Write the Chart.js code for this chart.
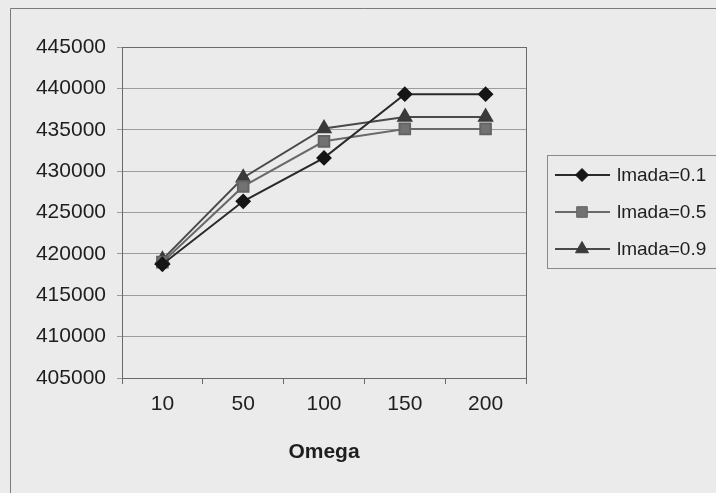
<!DOCTYPE html>
<html>
<head>
<meta charset="utf-8">
<script src="https://cdn.jsdelivr.net/npm/chart.js@4/dist/chart.umd.min.js"></script>
<style>
  html, body { margin:0; padding:0; background:#ebebeb; }
  #wrap { width:716px; height:493px; position:relative; }
</style>
</head>
<body>
<div id="wrap"><canvas id="chart" width="716" height="493"></canvas></div>
<script>
'use strict';

const omega = ['10', '50', '100', '150', '200'];
const lmada01 = [418750, 426350, 431600, 439300, 439300];
const lmada05 = [419000, 428150, 433600, 435100, 435100];
const lmada09 = [419300, 429200, 435150, 436550, 436550];
const yTicks = [405000, 410000, 415000, 420000, 425000, 430000, 435000, 440000, 445000];

const BG = '#ebebeb';
const FONT = 'Arial, "Liberation Sans", sans-serif';

// frame + plot border + legend box
const decor = {
  id: 'decor',
  beforeDraw(chart) {
    const { ctx } = chart;
    ctx.save();
    ctx.fillStyle = BG;
    ctx.fillRect(0, 0, chart.width, chart.height);
    ctx.strokeStyle = '#7a7a7a';
    ctx.lineWidth = 1;
    ctx.beginPath();
    ctx.moveTo(10.5, chart.height);
    ctx.lineTo(10.5, 8.5);
    ctx.lineTo(chart.width, 8.5);
    ctx.stroke();
    ctx.restore();
  },
  afterDatasetsDraw(chart) {
    const { ctx, chartArea: a } = chart;
    ctx.save();
    ctx.strokeStyle = '#6a6a6a';
    ctx.lineWidth = 1;
    ctx.strokeRect(a.left + 0.5, a.top + 0.5, a.right - a.left, a.bottom - a.top);

    // legend
    ctx.strokeStyle = '#8a8a8a';
    ctx.strokeRect(547.5, 155.5, 190, 113);
    const rows = [175, 212, 249];
    chart.data.datasets.forEach((ds, i) => {
      const y = rows[i];
      ctx.strokeStyle = ds.borderColor;
      ctx.lineWidth = 2;
      ctx.beginPath();
      ctx.moveTo(555, y);
      ctx.lineTo(610, y);
      ctx.stroke();
      ctx.fillStyle = ds.pointBackgroundColor;
      ctx.strokeStyle = ds.pointBorderColor;
      ctx.lineWidth = 1;
      Chart.helpers.drawPoint(ctx, { pointStyle: ds.pointStyle, radius: ds.pointRadius, borderWidth: 1 }, 582, y);
      ctx.fillStyle = '#1e1e1e';
      ctx.font = '19px ' + FONT;
      ctx.textBaseline = 'middle';
      ctx.textAlign = 'left';
      ctx.fillText(ds.label, 617, y + 1);
    });
    ctx.restore();
  }
};

new Chart(document.getElementById('chart'), {
  type: 'line',
  data: {
    labels: omega,
    datasets: [
      { label: 'lmada=0.1', data: lmada01, borderColor: '#2a2a2a', borderWidth: 2,
        pointStyle: 'rectRot', pointRadius: 6.5, pointBackgroundColor: '#151515', pointBorderColor: '#151515' },
      { label: 'lmada=0.5', data: lmada05, borderColor: '#6a6a6a', borderWidth: 2,
        pointStyle: 'rect', pointRadius: 7.5, pointBackgroundColor: '#727272', pointBorderColor: '#646464' },
      { label: 'lmada=0.9', data: lmada09, borderColor: '#4a4a4a', borderWidth: 2,
        pointStyle: 'triangle', pointRadius: 7.5, pointBackgroundColor: '#3a3a3a', pointBorderColor: '#3a3a3a' }
    ]
  },
  options: {
    responsive: false,
    animation: false,
    layout: { padding: { left: 0, top: 47, right: 190, bottom: 0 } },
    plugins: { legend: { display: false }, tooltip: { enabled: false } },
    elements: { line: { tension: 0 } },
    scales: {
      x: {
        offset: true,
        grid: { offset: true, drawOnChartArea: false, color: '#6a6a6a', tickLength: 6 },
        border: { color: '#6a6a6a' },
        ticks: { color: '#1e1e1e', font: { family: FONT, size: 21 }, padding: 8, maxRotation: 0 },
        title: { display: true, text: 'Omega', color: '#1e1e1e',
                 font: { family: FONT, size: 21, weight: 'bold' }, padding: { top: 0, bottom: 28 } },
        afterFit(s) { s.height = 115; }
      },
      y: {
        min: 405000, max: 445000,
        afterBuildTicks(s) { s.ticks = yTicks.map(v => ({ value: v })); },
        grid: { color: '#9c9c9c', tickLength: 5 },
        border: { color: '#6a6a6a' },
        ticks: { color: '#1e1e1e', font: { family: FONT, size: 21 }, padding: 11,
                 callback: v => String(v) },
        afterFit(s) { s.width = 122; }
      }
    }
  },
  plugins: [decor]
});
</script>
</body>
</html>
